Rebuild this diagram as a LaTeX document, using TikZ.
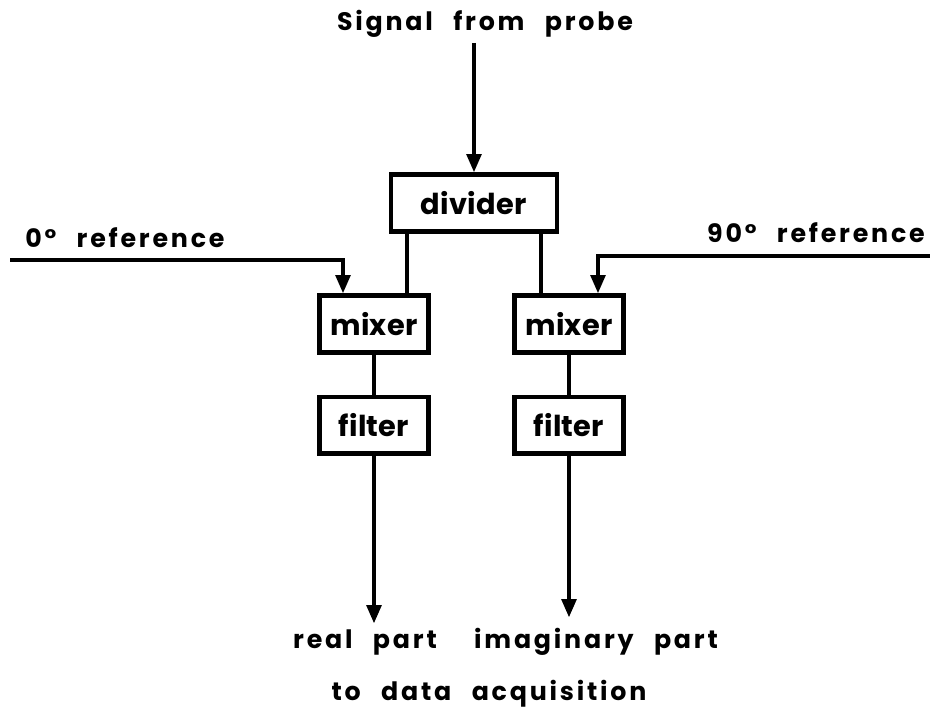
\documentclass[tikz,border=0pt]{standalone}
\usepackage{fontspec}
\setmainfont{Poppins}[LetterSpace=11, WordSpace=2.5]
\newfontfamily\boxfont{Poppins}[LetterSpace=1]
\usepackage{tikz}
\usetikzlibrary{arrows.meta, positioning, calc}
\tikzstyle{blockbox} = [draw, rectangle, line width=3pt, minimum height=1.42cm, text centered, font=\boxfont\bfseries\fontsize{20.5}{24}\selectfont, inner sep=0pt]
\tikzstyle{lbl} = [font=\bfseries\fontsize{18}{22}\selectfont, inner sep=0pt]
\tikzstyle{wire} = [line width=3pt]
\tikzstyle{arrw} = [line width=3pt, -{Triangle[length=0.46cm, width=0.36cm]}]

\begin{document}
\begin{tikzpicture}[x=0.025cm, y=-0.025cm]
    \useasboundingbox (0,0) rectangle (930,710);
    \node (sig) [lbl, anchor=base] at (485,30) {Signal from probe};
    \node (div) [blockbox, minimum width=4.15cm] at (474,203) {divider};
    \node (mixl) [blockbox, minimum width=2.72cm] at (374,324) {mixer};
    \node (mixr) [blockbox, minimum width=2.72cm] at (569,324) {mixer};
    \node (filtl) [blockbox, minimum width=2.72cm, below=1cm of mixl] {filter};
    \node (filtr) [blockbox, minimum width=2.72cm, below=1cm of mixr] {filter};

    \node (ref0l) [lbl, anchor=base west] at (25,247) {0° reference};
    \node (ref90l) [lbl, anchor=base east] at (925,242) {90° reference};
    \node (real) [lbl, anchor=base] at (365,648) {real part};
    \node (imag) [lbl, anchor=base] at (596,648) {imaginary part};
    \node (daq) [lbl, anchor=base] at (489,700) {to data acquisition};

    \coordinate (ref0) at (10,260);
    \coordinate (ref90) at (930,256);
    \coordinate (legl) at ($(div.south)+(-67,0)$);
    \coordinate (legr) at ($(div.south)+(67,0)$);
    \coordinate (outl) at ($(filtl.south)+(0,168)$);
    \coordinate (outr) at ($(filtr.south)+(0,162)$);

    \draw [arrw] ([yshift=-4pt]sig.south -| div.north) -- (div.north);
    \draw [wire] (legl) -- (legl |- mixl.north);
    \draw [wire] (legr) -- (legr |- mixr.north);
    \draw [arrw] (ref0) -| ($(mixl.north)+(-31,0)$);
    \draw [arrw] (ref90) -| ($(mixr.north)+(29,0)$);
    \draw [wire] (mixl) -- (filtl);
    \draw [wire] (mixr) -- (filtr);
    \draw [arrw] (filtl) -- (outl);
    \draw [arrw] (filtr) -- (outr);
\end{tikzpicture}
\end{document}
